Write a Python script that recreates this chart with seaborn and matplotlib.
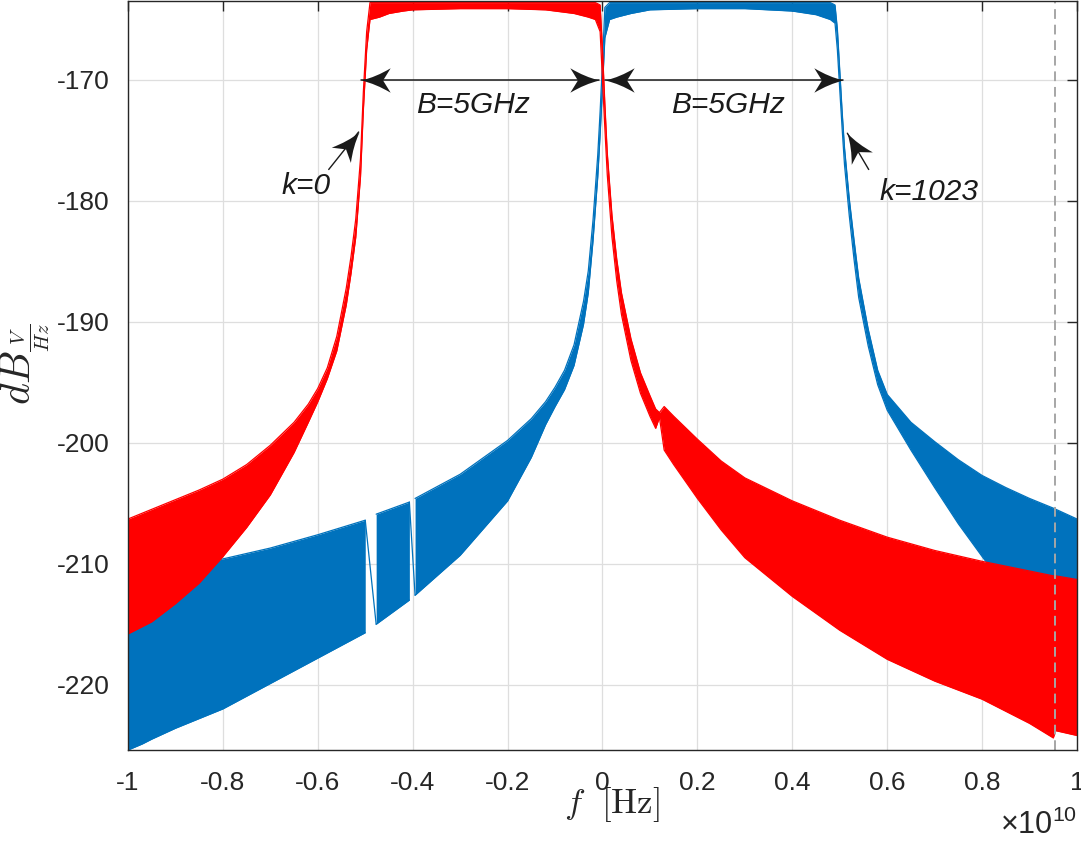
import numpy as np
import matplotlib
matplotlib.use("Agg")
import matplotlib.pyplot as plt
from matplotlib.path import Path
from matplotlib.markers import MarkerStyle
from matplotlib.transforms import Affine2D
import seaborn as sns

# Frequencies are given in units of 1e10 Hz, levels in dB(V/Hz).
F_UNIT = 1e10

# k = 0 channel: upper / lower envelope of the oscillating spectrum
red_f = [-1.00, -0.95, -0.90, -0.85, -0.80, -0.75, -0.70, -0.65, -0.62, -0.60,
         -0.58, -0.56, -0.54, -0.53, -0.52, -0.51, -0.504, -0.497, -0.49, -0.47,
         -0.45, -0.42, -0.40, -0.30, -0.20, -0.12, -0.10, -0.06, -0.03, -0.015,
         -0.005, 0.000, 0.005, 0.010, 0.020, 0.030, 0.040, 0.060, 0.080, 0.100,
         0.112, 0.120, 0.130, 0.150, 0.200, 0.250, 0.300, 0.400, 0.500, 0.600,
         0.700, 0.800, 0.900, 0.950, 0.955, 1.000]
red_hi = [-206.3, -205.5, -204.7, -203.9, -203.0, -201.8, -200.2, -198.3, -196.8, -195.5,
          -193.8, -191.2, -187.2, -184.6, -181.5, -176.5, -171.0, -166.0, -163.6, -163.6,
          -163.6, -163.6, -163.6, -163.6, -163.6, -163.6, -163.6, -163.6, -163.6, -163.6,
          -163.8, -167.5, -172.0, -176.0, -181.2, -184.8, -187.6, -191.4, -194.2, -196.1,
          -197.2, -197.5, -197.0, -197.8, -199.7, -201.5, -202.9, -204.8, -206.4, -207.8,
          -208.9, -209.8, -210.6, -211.0, -211.0, -211.3]
red_lo = [-215.8, -214.8, -213.3, -211.6, -209.4, -207.0, -204.3, -200.8, -198.3, -196.6,
          -194.7, -192.4, -188.6, -186.0, -183.0, -178.0, -172.5, -167.5, -165.0, -164.8,
          -164.5, -164.3, -164.2, -164.1, -164.1, -164.2, -164.3, -164.5, -164.8, -165.0,
          -166.0, -170.0, -174.0, -177.8, -183.0, -186.6, -189.4, -193.2, -195.9, -197.8,
          -198.8, -197.9, -200.6, -201.8, -204.6, -207.2, -209.5, -212.7, -215.5, -217.9,
          -219.7, -221.2, -223.2, -224.4, -223.8, -224.2]

# k = 1023 channel
blue_f = [-1.00, -0.97, -0.95, -0.90, -0.80, -0.70, -0.60, -0.50, -0.477, -0.407,
          -0.395, -0.30, -0.20, -0.15, -0.12, -0.10, -0.08, -0.06, -0.04, -0.03,
          -0.02, -0.01, -0.005, 0.000, 0.005, 0.015, 0.030, 0.060, 0.100, 0.200,
          0.300, 0.400, 0.450, 0.480, 0.490, 0.495, 0.500, 0.505, 0.510, 0.520,
          0.530, 0.540, 0.560, 0.580, 0.600, 0.650, 0.700, 0.750, 0.800, 0.850,
          0.900, 0.950, 1.000]
blue_hi = [-211.3, -211.0, -210.9, -210.5, -209.6, -208.7, -207.6, -206.4, -205.9, -204.9,
           -204.6, -202.6, -199.8, -198.0, -196.6, -195.4, -194.0, -191.9, -188.3, -185.8,
           -181.6, -176.2, -172.6, -168.5, -164.0, -163.6, -163.6, -163.6, -163.6, -163.6,
           -163.6, -163.6, -163.6, -163.6, -163.8, -165.8, -169.2, -172.6, -175.6, -179.8,
           -183.2, -186.4, -190.6, -194.0, -196.0, -198.3, -199.9, -201.4, -202.7, -203.7,
           -204.6, -205.4, -206.3]
blue_lo = [-225.4, -224.9, -224.5, -223.6, -222.0, -219.9, -217.8, -215.7, -215.0, -213.0,
           -212.6, -209.3, -204.8, -201.2, -198.5, -197.0, -195.6, -193.6, -190.2, -187.6,
           -183.3, -178.0, -174.5, -170.6, -166.5, -165.0, -164.8, -164.5, -164.2, -164.1,
           -164.1, -164.3, -164.6, -165.0, -165.3, -167.5, -170.8, -174.0, -177.0, -181.2,
           -184.8, -188.0, -192.0, -195.2, -197.3, -200.6, -203.7, -206.7, -209.4, -212.0,
           -214.0, -215.5, -216.5]
# spans where the k = 1023 trace only passes through as a single sweep
blue_gaps = [(-0.500, -0.477), (-0.407, -0.395)]

marker_f = 0.953          # vertical reference frequency
bandwidth = 0.5           # 5 GHz
band_starts = [-0.508, 0.006]
pointer_tails = [(-0.577, -177.4), (0.561, -177.4)]
pointer_tips = [(-0.514, -174.3), (0.516, -174.4)]
pointer_labels = ["k=0", "k=1023"]

x_ticks = [-1, -0.8, -0.6, -0.4, -0.2, 0, 0.2, 0.4, 0.6, 0.8, 1]
x_tick_labels = ["-1", "-0.8", "-0.6", "-0.4", "-0.2", "0", "0.2", "0.4", "0.6", "0.8", "1"]
y_ticks = [-220, -210, -200, -190, -180, -170]
y_tick_labels = ["-220", "-210", "-200", "-190", "-180", "-170"]

RED = "#FF0000"
BLUE = "#0072BD"
INK = "#262626"

sns.set_theme(style="white")
plt.rcParams["font.family"] = ["Liberation Sans", "DejaVu Sans"]
plt.rcParams["mathtext.fontset"] = "custom"
plt.rcParams["mathtext.rm"] = "Liberation Sans"
plt.rcParams["mathtext.it"] = "Liberation Sans:italic"

fig = plt.figure(figsize=(10.81, 8.47), dpi=100)
ax = fig.add_axes([0.1184, 0.1145, 0.8779, 0.8843])
ax.set_xlim(-F_UNIT, F_UNIT)
ax.set_ylim(-225.4, -163.47)


def draw_band(f, hi, lo, color, gaps=(), z=1.5):
    f = np.asarray(f) * F_UNIT
    hi = np.asarray(hi)
    lo = np.asarray(lo)
    pos = lambda v: int(np.flatnonzero(np.isclose(f, v * F_UNIT))[0])
    cuts = [pos(g1) for _, g1 in gaps]
    for idx in np.split(np.arange(len(f)), cuts):
        ax.fill_between(f[idx], lo[idx], hi[idx], color=color, lw=0, zorder=z)
        for edge in (hi, lo):
            sns.lineplot(x=f[idx], y=edge[idx], color=color, lw=0.9, estimator=None,
                         sort=False, legend=False, ax=ax, zorder=z)
    for g0, g1 in gaps:
        i0, i1 = pos(g0), pos(g1)
        ax.plot([f[i0], f[i1]], [hi[i0], lo[i1]], color=color, lw=0.9, zorder=z)


draw_band(blue_f, blue_hi, blue_lo, BLUE, gaps=blue_gaps, z=1.5)
draw_band(red_f, red_hi, red_lo, RED, z=1.8)

ax.axvline(marker_f * F_UNIT, color="#A6A6A6", lw=1.4, ls=(0, (5, 3)), zorder=2.2)

# axes styling
ax.set_xticks([t * F_UNIT for t in x_ticks])
ax.set_xticklabels(x_tick_labels)
ax.set_yticks(y_ticks)
ax.set_yticklabels(y_tick_labels)
ax.grid(True, color="#DEDEDE", lw=0.9)
ax.set_axisbelow(True)
for s in ax.spines.values():
    s.set_color(INK)
    s.set_linewidth(1.0)
    s.set_visible(True)
ax.tick_params(direction="in", length=7, width=1.0, top=True, right=True,
               labelsize=19, colors=INK)
ax.tick_params(axis="x", pad=15)
ax.tick_params(axis="y", pad=13)

ax.set_xlabel(r"$f\ \ [\mathrm{Hz}]$", fontsize=25, math_fontfamily="cm", color=INK, va="center")
ax.xaxis.set_label_coords(0.51, -0.073)
ax.set_ylabel(r"$dB_{\frac{V}{Hz}}$", fontsize=30, math_fontfamily="cm", color=INK, va="center")
ax.yaxis.set_label_coords(-0.108, 0.515)
ax.text(1.0, -0.100, r"$\times10^{10}$", transform=ax.transAxes, ha="right", va="center",
        fontsize=22, color=INK)

# arrow annotations: swept-back filled heads
head_path = Path([(0, 0), (-0.5, 0.12), (-1, 0.42), (-0.74, 0),
                  (-1, -0.42), (-0.5, -0.12), (0, 0), (0, 0)],
                 [Path.MOVETO, Path.CURVE3, Path.CURVE3, Path.LINETO,
                  Path.LINETO, Path.CURVE3, Path.CURVE3, Path.CLOSEPOLY])


def head(x, y, angle):
    m = MarkerStyle(head_path, transform=Affine2D().rotate_deg(angle))
    ax.plot([x], [y], ls="none", marker=m, ms=42, mfc="k", mec="none", zorder=6)


label = f"B={bandwidth * F_UNIT / 1e9:g}GHz"
label_x = [-0.272, 0.265]
for start, lx in zip(band_starts, label_x):
    x0, x1 = start * F_UNIT, (start + bandwidth) * F_UNIT
    ax.plot([x0, x1], [-170, -170], color="k", lw=1.1, zorder=5)
    head(x0, -170, 180)
    head(x1, -170, 0)
    ax.text(lx * F_UNIT, -172.1, label, fontsize=21.5, style="italic", ha="center",
            va="center", color="#1A1A1A", zorder=6)

label_pos = [(-0.624, -178.8), (0.689, -179.3)]
for (xt, yt), (xh, yh), txt, (lx, ly) in zip(pointer_tails, pointer_tips, pointer_labels, label_pos):
    p0 = ax.transData.transform((xt * F_UNIT, yt))
    p1 = ax.transData.transform((xh * F_UNIT, yh))
    ang = np.degrees(np.arctan2(p1[1] - p0[1], p1[0] - p0[0]))
    ax.plot([xt * F_UNIT, xh * F_UNIT], [yt, yh], color="k", lw=1.0, zorder=5)
    head(xh * F_UNIT, yh, ang)
    ax.text(lx * F_UNIT, ly, txt, fontsize=21.5, style="italic", ha="center", va="center",
            color="#1A1A1A", zorder=6)

fig.savefig("out.png", dpi=100)
